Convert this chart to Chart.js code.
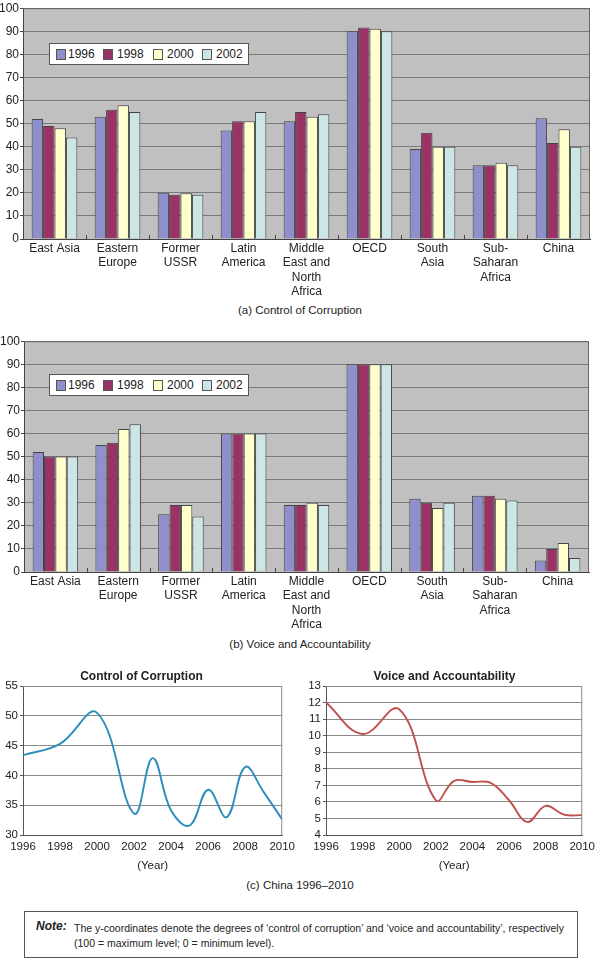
<!DOCTYPE html>
<html><head><meta charset="utf-8">
<script src="https://cdn.jsdelivr.net/npm/chart.js@4/dist/chart.umd.min.js"></script>
<style>
html,body{margin:0;padding:0;background:#fff}
body{width:600px;height:958px;position:relative;overflow:hidden;font-family:"Liberation Sans",Arial,sans-serif;color:#222}
.cv{position:absolute}
.cap{position:absolute;left:0;width:600px;text-align:center;font-size:11.5px;line-height:14px;color:#222}
.legend{position:absolute;left:49px;width:198px;height:20px;background:#fff;border:1px solid #555;font-size:12px;color:#222}
.legend span{position:absolute;top:0;line-height:20px}
.legend i{position:absolute;top:5px;width:8px;height:9px;border:1px solid #555}
.note{position:absolute;left:24px;top:911px;width:552px;height:45px;border:1px solid #555;font-size:10.5px;color:#222}
.note b{position:absolute;left:11px;top:7px;font-size:12px;font-style:italic;font-weight:bold}
.note div{position:absolute;left:49px;top:9px;line-height:15px;white-space:nowrap}
</style></head>
<body>
<div class="cv" style="left:0;top:0;width:600px;height:300px"><canvas id="ca"></canvas></div>
<div class="cap" style="top:303px">(a) Control of Corruption</div>
<div class="cv" style="left:0;top:333px;width:600px;height:300px"><canvas id="cb"></canvas></div>
<div class="cap" style="top:637px">(b) Voice and Accountability</div>
<div class="cv" style="left:0;top:660px;width:300px;height:215px"><canvas id="cc"></canvas></div>
<div class="cv" style="left:300px;top:660px;width:300px;height:215px"><canvas id="cd"></canvas></div>
<div class="cap" style="top:878px">(c) China 1996–2010</div>
<div class="note"><b>Note:</b><div>The y-coordinates denote the degrees of ‘control of corruption’ and ‘voice and accountability’, respectively<br>(100 = maximum level; 0 = minimum level).</div></div>
<script>
// ---------- data ----------
const categories = [['East Asia'],['Eastern','Europe'],['Former','USSR'],['Latin','America'],['Middle','East and','North','Africa'],['OECD'],['South','Asia'],['Sub-','Saharan','Africa'],['China']];
const seriesYears = ['1996','1998','2000','2002'];
const barColors = ['#8F8FCB','#993366','#FFFFCC','#CCE5E5'];

const corruption1996 = [52, 53, 20, 47, 51, 90, 39, 32, 52.3];
const corruption1998 = [49, 56, 19.2, 51, 55, 91.6, 46, 32, 41.6];
const corruption2000 = [48, 58, 19.8, 51, 53, 91.1, 40, 33, 47.6];
const corruption2002 = [44, 55, 19.2, 55, 54, 90, 40, 32, 40];

const voice1996 = [52, 55, 25, 60, 29, 90, 31.7, 33, 5];
const voice1998 = [50, 56, 29, 60, 29, 90, 30, 33, 10];
const voice2000 = [50, 62, 29, 60, 30, 90, 27.7, 31.7, 12.6];
const voice2002 = [50, 64, 24, 60, 29, 90, 30, 31, 6.1];

const barTicks = [0,10,20,30,40,50,60,70,80,90,100];

const chinaYears = [1996, 1998, 2000, 2002, 2003, 2004, 2005, 2006, 2007, 2008, 2009, 2010];
const chinaCorruption = [43.4, 45.3, 50.5, 33.6, 42.9, 34.1, 31.6, 37.6, 33.0, 41.4, 37.2, 32.6];
const chinaVoice = [12.0, 10.1, 11.6, 6.1, 7.27, 7.2, 7.15, 6.1, 4.79, 5.76, 5.23, 5.2];
const lineYearTicks = [1996, 1998, 2000, 2002, 2004, 2006, 2008, 2010];
const corruptionTicks = [30, 35, 40, 45, 50, 55];
const voiceTicks = [4, 5, 6, 7, 8, 9, 10, 11, 12, 13];

// ---------- helpers ----------
const FONT = '"Liberation Sans", Arial, sans-serif';
Chart.defaults.font.family = FONT;
Chart.defaults.color = '#222';

const plotBg = {
  id: 'plotBg',
  beforeDraw(c, a, o) {
    const {ctx, chartArea: {left, top, width, height}} = c;
    ctx.save();
    if (o.color) { ctx.fillStyle = o.color; ctx.fillRect(left, top, width, height); }
    ctx.restore();
  },
  afterDraw(c, a, o) {
    const {ctx, chartArea: {left, top, right, bottom}} = c;
    ctx.save();
    if (o.border) {
      ctx.strokeStyle = o.border; ctx.lineWidth = 1;
      ctx.beginPath();
      ctx.moveTo(left, top + 0.5); ctx.lineTo(right - 0.5, top + 0.5); ctx.lineTo(right - 0.5, bottom);
      ctx.stroke();
    }
    if (o.catTicks) {
      const xs = c.scales.x; const n = xs.getLabels().length; const w = (xs.right - xs.left) / n;
      ctx.strokeStyle = '#444'; ctx.lineWidth = 1; ctx.beginPath();
      for (let i = 1; i < n; i++) { const x = Math.round(xs.left + i * w) + 0.5; ctx.moveTo(x, bottom - 4); ctx.lineTo(x, bottom); }
      ctx.stroke();
    }
    ctx.restore();
  }
};

function barChart(id, sets, yWidth, rightPad) {
  return new Chart(document.getElementById(id), {
    type: 'bar',
    data: {
      labels: categories,
      datasets: sets.map((d, i) => ({
        label: seriesYears[i], data: d, backgroundColor: barColors[i],
        borderColor: '#444', borderWidth: 1, borderSkipped: 'bottom',
        barPercentage: 1, categoryPercentage: 0.725
      }))
    },
    options: {
      responsive: true, maintainAspectRatio: false, animation: false,
      layout: {padding: {top: 6, right: rightPad, left: 0, bottom: 0}},
      plugins: {legend: {display: false}, tooltip: {enabled: false},
        plotBg: {color: '#C0C0C0', border: '#666', catTicks: true}},
      scales: {
        x: {
          grid: {display: false, drawTicks: false},
          border: {color: '#444'},
          ticks: {font: {size: 12}, color: '#222', padding: 2.5, maxRotation: 0, autoSkip: false},
          afterFit(s) { s.height = 61; }
        },
        y: {
          min: 0, max: 100,
          afterBuildTicks(s) { s.ticks = barTicks.map(v => ({value: v})); },
          ticks: {font: {size: 12}, color: '#222', padding: 1, autoSkip: false},
          grid: {color: '#7A7A7A', tickLength: 3, tickColor: '#444'},
          border: {color: '#444'},
          afterFit(s) { s.width = yWidth; }
        }
      }
    },
    plugins: [plotBg]
  });
}

barChart('ca', [corruption1996, corruption1998, corruption2000, corruption2002], 23, 10);
barChart('cb', [voice1996, voice1998, voice2000, voice2002], 24, 11);

function lineChart(id, title, vals, color, yTicks, yWidth, rightPad) {
  return new Chart(document.getElementById(id), {
    type: 'line',
    data: {
      datasets: [{
        label: title, data: chinaYears.map((y, i) => ({x: y, y: vals[i]})),
        borderColor: color, borderWidth: 1.9, pointRadius: 0, tension: 0.4, fill: false
      }]
    },
    options: {
      responsive: true, maintainAspectRatio: false, animation: false,
      layout: {padding: {top: 0, right: rightPad, left: 0, bottom: 0}},
      plugins: {
        legend: {display: false}, tooltip: {enabled: false},
        title: {display: true, text: title, font: {size: 12, weight: 'bold'}, color: '#222', padding: {top: 9.6, bottom: 2}},
        plotBg: {border: '#8A8A8A'}
      },
      scales: {
        x: {
          type: 'linear', min: 1996, max: 2010,
          afterBuildTicks(s) { s.ticks = lineYearTicks.map(v => ({value: v})); },
          ticks: {font: {size: 11.5}, color: '#222', padding: 5, autoSkip: false, callback: v => String(v)},
          grid: {display: false, drawTicks: false},
          border: {color: '#555'},
          title: {display: true, text: '(Year)', font: {size: 11.5}, color: '#222', padding: {top: 0, bottom: 2}},
          afterFit(s) { s.height = 40; }
        },
        y: {
          min: yTicks[0], max: yTicks[yTicks.length - 1],
          afterBuildTicks(s) { s.ticks = yTicks.map(v => ({value: v})); },
          ticks: {font: {size: 11.5}, color: '#222', padding: 2, autoSkip: false},
          grid: {color: '#8A8A8A', tickLength: 3, tickColor: '#555'},
          border: {color: '#555'},
          afterFit(s) { s.width = yWidth; }
        }
      }
    },
    plugins: [plotBg]
  });
}

lineChart('cc', 'Control of Corruption', chinaCorruption, '#2A8DBB', corruptionTicks, 23, 17);
lineChart('cd', 'Voice and Accountability', chinaVoice, '#C0504D', voiceTicks, 26, 11);
</script>
<div class="legend" style="top:43px">
  <i style="left:6px;background:#8F8FCB"></i><span style="left:18px">1996</span>
  <i style="left:53px;background:#993366"></i><span style="left:67px">1998</span>
  <i style="left:103px;background:#FFFFCC"></i><span style="left:117px">2000</span>
  <i style="left:152px;background:#CCE5E5"></i><span style="left:166px">2002</span>
</div>
<div class="legend" style="top:374px">
  <i style="left:6px;background:#8F8FCB"></i><span style="left:18px">1996</span>
  <i style="left:53px;background:#993366"></i><span style="left:67px">1998</span>
  <i style="left:103px;background:#FFFFCC"></i><span style="left:117px">2000</span>
  <i style="left:152px;background:#CCE5E5"></i><span style="left:166px">2002</span>
</div>
</body></html>
